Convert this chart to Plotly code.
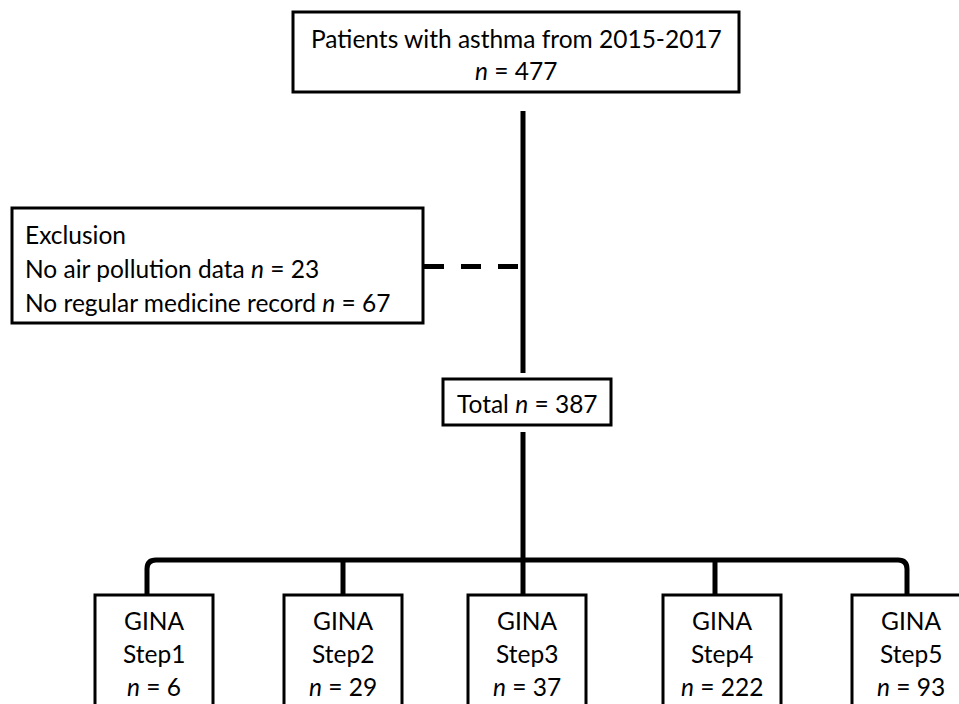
import plotly.graph_objects as go

# ---- data ----
start_label = "Patients with asthma from 2015-2017"
start_n = 477
excl_title = "Exclusion"
excl_labels = ["No air pollution data", "No regular medicine record"]
excl_n = [23, 67]
total_n = 387
step_labels = ["Step1", "Step2", "Step3", "Step4", "Step5"]
step_n = [6, 29, 37, 222, 93]

# ---- layout geometry (pixels, y downward) ----
W, H = 959, 704
FONT = "Lato"
FS = 24.5
BORDER = 3
LINEW = 5

shapes = []
annotations = []

def box(x0, y0, x1, y1):
    shapes.append(dict(type="rect", xref="x", yref="y", x0=x0, y0=y0, x1=x1, y1=y1,
                       line=dict(color="black", width=BORDER), fillcolor="white", layer="above"))

def line(x0, y0, x1, y1, dash="solid", w=LINEW):
    shapes.append(dict(type="line", xref="x", yref="y", x0=x0, y0=y0, x1=x1, y1=y1,
                       line=dict(color="black", width=w, dash=dash), layer="below"))

def text(x, y, s, anchor="center"):
    annotations.append(dict(x=x, y=y, xref="x", yref="y", text=s, showarrow=False,
                            xanchor=anchor, yanchor="middle",
                            font=dict(family=FONT, size=FS, color="black")))

# top box
box(293, 12, 739, 92)
text(516, 38, start_label)
text(516, 70, f"<i>n</i> = {start_n}")

# main vertical line
line(523, 111, 523, 373)

# exclusion box + dashed connector
box(12, 208, 423, 323)
text(23, 234, excl_title, "left")
for i, (lab, n) in enumerate(zip(excl_labels, excl_n)):
    text(23, 268 + 34 * i, f"{lab} <i>n</i> = {n}", "left")
line(424, 266.5, 523, 266.5, dash="20px,17px")

# total box
box(443, 379, 611, 425)
text(527, 403, f"Total <i>n</i> = {total_n}")

# line down to branch
line(523, 432, 523, 560)

# branch line with rounded ends
shapes.append(dict(type="path", xref="x", yref="y",
                   path="M 147 596 L 147 569 Q 147 560 156 560 L 898 560 Q 907 560 907 569 L 907 596",
                   line=dict(color="black", width=LINEW), layer="below"))

box_x0 = [95, 284, 468, 663, 852]
box_w = 118
conn_x = [147, 343, 523, 715, 907]
for i, (lab, n) in enumerate(zip(step_labels, step_n)):
    if i in (1, 2, 3):
        line(conn_x[i], 560, conn_x[i], 596)
    x0 = box_x0[i]
    box(x0, 595, x0 + box_w, 760)
    cx = x0 + box_w / 2
    text(cx, 620, "GINA")
    text(cx, 653, lab)
    text(cx, 686, f"<i>n</i> = {n}")

fig = go.Figure()
fig.update_layout(
    width=W, height=H,
    margin=dict(l=0, r=0, t=0, b=0),
    paper_bgcolor="white", plot_bgcolor="white",
    xaxis=dict(range=[0, W], visible=False, fixedrange=True),
    yaxis=dict(range=[H, 0], visible=False, fixedrange=True),
    shapes=shapes, annotations=annotations, showlegend=False,
)
fig.write_html("out.html", config={"displayModeBar": False},
               post_script="document.body.style.margin='0';document.body.style.overflow='hidden';")
